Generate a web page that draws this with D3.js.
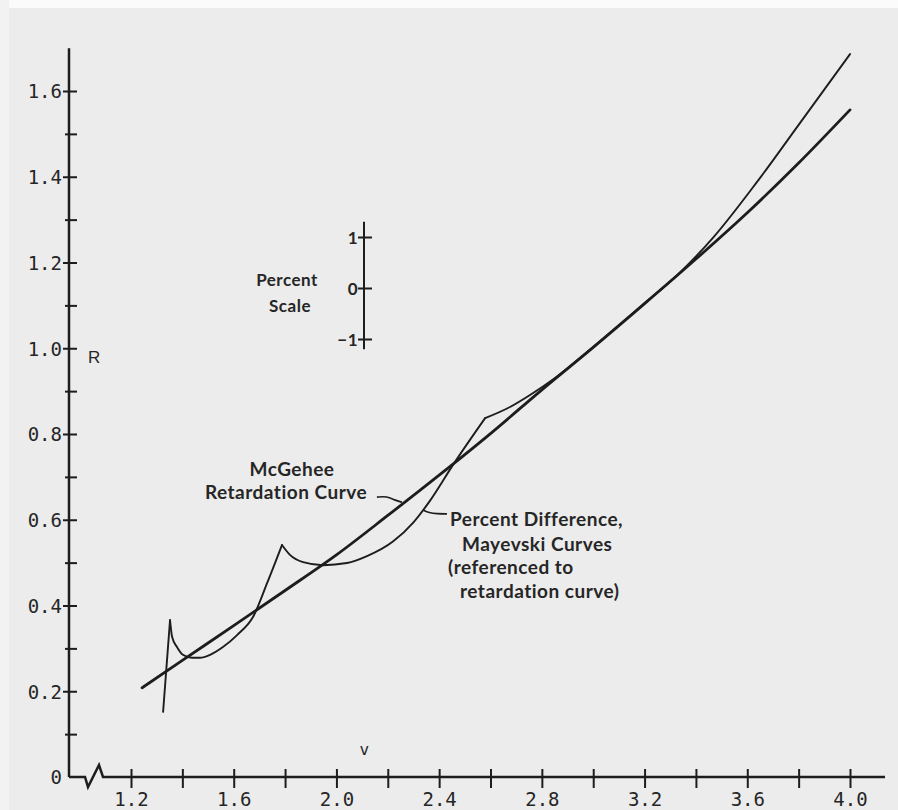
<!DOCTYPE html>
<html>
<head>
<meta charset="utf-8">
<script src="https://cdn.jsdelivr.net/npm/d3@7"></script>
<style>
  body { margin: 0; background: #ececec; }
  svg { display: block; }
  .axis text { font-family: "DejaVu Sans Mono", monospace; font-size: 19px; fill: #262626; }
  .note { font-family: Lato, "Noto Sans", sans-serif; font-size: 19px; font-weight: bold; letter-spacing: 0.5px; fill: #262626; }
</style>
</head>
<body>
<svg id="chart" width="898" height="810"></svg>
<script>
// values
var vTicks = [1.2, 1.4, 1.6, 1.8, 2.0, 2.2, 2.4, 2.6, 2.8, 3.0, 3.2, 3.4, 3.6, 3.8, 4.0];
var vLabels = [1.2, 1.6, 2.0, 2.4, 2.8, 3.2, 3.6, 4.0];
var rTicks = [0.1, 0.2, 0.3, 0.4, 0.5, 0.6, 0.7, 0.8, 0.9, 1.0, 1.1, 1.2, 1.3, 1.4, 1.5, 1.6];
var rLabels = [0, 0.2, 0.4, 0.6, 0.8, 1.0, 1.2, 1.4, 1.6];
var pctTicks = [-1, 0, 1];

// McGehee retardation curve
var mcgeheeV = [1.243, 1.4, 1.6, 1.8, 2.0, 2.2, 2.4, 2.6, 2.8, 3.0, 3.2, 3.4, 3.6, 3.8, 4.0];
var mcgeheeR = [0.208, 0.272, 0.353, 0.435, 0.518, 0.610, 0.704, 0.801, 0.903, 1.002, 1.104, 1.208, 1.316, 1.432, 1.556];

// Mayevski curves, percent difference referenced to the retardation curve
var mayevskiV = [1.325, 1.352, 1.360, 1.379, 1.402, 1.438, 1.469, 1.508, 1.558, 1.613, 1.675, 1.730, 1.788,
                 1.819, 1.870, 1.948, 2.041, 2.119, 2.220, 2.300, 2.364, 2.454, 2.579,
                 2.676, 2.754, 2.850, 3.000, 3.200, 3.330, 3.400, 3.467, 3.638, 3.800, 4.000];
var mayevskiR = [0.152, 0.366, 0.327, 0.303, 0.285, 0.278, 0.278, 0.285, 0.303, 0.331, 0.373, 0.452, 0.541,
                 0.518, 0.501, 0.494, 0.499, 0.515, 0.549, 0.594, 0.644, 0.728, 0.837,
                 0.863, 0.891, 0.930, 1.003, 1.105, 1.172, 1.214, 1.258, 1.388, 1.521, 1.686];
// where one Mayevski zone hands over to the next
var mayevskiCusps = [1.352, 1.788, 2.579];

var svg = d3.select("#chart");
var W = 898, H = 810;

var x = d3.scaleLinear().domain([1.2, 4.0]).range([131, 850]);
var y = d3.scaleLinear().domain([0, 1.6]).range([777, 91]);
var pct = d3.scaleLinear().domain([-1, 1]).range([339, 237]);
var x0 = 69; // where the R axis sits

// paper
svg.append("rect").attr("width", W).attr("height", H).attr("fill", "#ececec");
svg.append("rect").attr("width", W).attr("height", 8).attr("fill", "#fbfbfb");
svg.append("rect").attr("width", 9).attr("height", H).attr("fill", "#f2f2f2");

var ink = "#1d1d1d";

// R axis
svg.append("line")
    .attr("x1", x0).attr("x2", x0)
    .attr("y1", y(1.7)).attr("y2", y(0))
    .attr("stroke", ink).attr("stroke-width", 2.5);

var gy = svg.append("g").attr("class", "axis")
    .attr("transform", "translate(" + x0 + ",0)")
    .call(d3.axisLeft(y).tickValues(rTicks.concat([0])).tickSizeOuter(0)
        .tickFormat(function(d) {
            if (!rLabels.some(function(l) { return Math.abs(l - d) < 1e-6; })) return "";
            return d === 0 ? "0" : d3.format(".1f")(d);
        }));
gy.select(".domain").remove();
gy.selectAll(".tick line")
    .attr("x1", function(d) { return d === 0 ? 0 : 8; })
    .attr("x2", function(d) { return d === 0 ? 0 : (Math.round(d * 10) % 2 === 0 ? -6 : -4); })
    .attr("stroke", ink).attr("stroke-width", 2);
gy.selectAll(".tick text").attr("x", -7).attr("dy", "0.36em").attr("fill", "#262626");

// v axis, with the break near the origin
var yb = y(0);
var axisPath = d3.line()([[x0, yb], [85, yb], [88, yb + 10], [99, yb - 12], [103, yb], [885, yb]]);
svg.append("path").attr("d", axisPath)
    .attr("fill", "none").attr("stroke", ink).attr("stroke-width", 2.5)
    .attr("stroke-linejoin", "miter");

var gx = svg.append("g").attr("class", "axis")
    .attr("transform", "translate(0," + yb + ")")
    .call(d3.axisBottom(x).tickValues(vTicks).tickSizeOuter(0)
        .tickFormat(function(d) {
            return vLabels.some(function(l) { return Math.abs(l - d) < 1e-6; }) ? d3.format(".1f")(d) : "";
        }));
gx.select(".domain").remove();
gx.selectAll(".tick line").attr("y1", -8).attr("y2", 11).attr("stroke", ink).attr("stroke-width", 2);
gx.selectAll(".tick text").attr("y", 29).attr("dy", 0).attr("fill", "#262626");

// axis letters
svg.append("text").attr("x", x0 + 19).attr("y", y(0.965))
    .style("font-family", "'Liberation Sans', sans-serif").style("font-size", "17px").attr("fill", "#262626").text("R");
svg.append("text").attr("x", x(2.09)).attr("y", yb - 22)
    .style("font-family", "'DejaVu Sans Mono', monospace").style("font-size", "16px").attr("fill", "#262626").text("v");

// curves
var line = d3.line()
    .x(function(d) { return x(d[0]); })
    .y(function(d) { return y(d[1]); });

svg.append("path")
    .attr("d", line.curve(d3.curveMonotoneX)(d3.zip(mcgeheeV, mcgeheeR)))
    .attr("fill", "none").attr("stroke", ink).attr("stroke-width", 2.8)
    .attr("stroke-linecap", "round");

// each zone drawn smooth on its own, so the hand-over points stay sharp
var edges = [mayevskiV[0]].concat(mayevskiCusps, [mayevskiV[mayevskiV.length - 1]]);
var zones = d3.pairs(edges).map(function(e) {
    return d3.zip(mayevskiV, mayevskiR).filter(function(p) { return p[0] >= e[0] && p[0] <= e[1]; });
});
svg.selectAll("path.zone").data(zones).enter().append("path")
    .attr("class", "zone")
    .attr("d", function(z) { return z.length > 2 ? line.curve(d3.curveMonotoneX)(z) : line.curve(d3.curveLinear)(z); })
    .attr("fill", "none").attr("stroke", ink).attr("stroke-width", 1.9)
    .attr("stroke-linejoin", "round").attr("stroke-linecap", "round");

// percent scale
var px0 = 364;
svg.append("line").attr("x1", px0).attr("x2", px0)
    .attr("y1", pct(1.3)).attr("y2", pct(-1.2))
    .attr("stroke", ink).attr("stroke-width", 2);
var gp = svg.append("g").attr("transform", "translate(" + px0 + ",0)")
    .call(d3.axisLeft(pct).tickValues(pctTicks).tickSizeOuter(0).tickFormat(d3.format("d")));
gp.select(".domain").remove();
gp.selectAll(".tick line").attr("x1", 8).attr("x2", -6).attr("stroke", ink).attr("stroke-width", 2);
gp.selectAll(".tick text").attr("x", -6).attr("dy", "0.36em")
    .attr("fill", "#262626").attr("class", "note").style("font-size", "17px");

svg.append("text").attr("class", "note").attr("x", 287).attr("y", pct(0) - 2)
    .attr("text-anchor", "middle").style("font-size", "17px").text("Percent");
svg.append("text").attr("class", "note").attr("x", 290).attr("y", pct(0) + 24)
    .attr("text-anchor", "middle").style("font-size", "17px").text("Scale");

// labels and leaders
svg.append("text").attr("class", "note").attr("x", 292).attr("y", 476)
    .attr("text-anchor", "middle").text("McGehee");
svg.append("text").attr("class", "note").attr("x", 286).attr("y", 499)
    .attr("text-anchor", "middle").text("Retardation Curve");

var leader = d3.line().curve(d3.curveBasis);
var mcA = [x(2.255), y(0.641)];
svg.append("path")
    .attr("d", leader([[mcA[0] - 25, mcA[1] - 5], [mcA[0] - 15, mcA[1] - 6], [mcA[0] - 7, mcA[1] - 2], mcA]))
    .attr("fill", "none").attr("stroke", ink).attr("stroke-width", 1.7);

var myA = [x(2.337), y(0.623)];
svg.append("path")
    .attr("d", leader([myA, [myA[0] + 6, myA[1] + 3], [myA[0] + 14, myA[1] + 4], [myA[0] + 24, myA[1] + 4]]))
    .attr("fill", "none").attr("stroke", ink).attr("stroke-width", 1.7);

var notes = [
    ["Percent Difference,", 450, 526],
    ["Mayevski Curves", 462, 551],
    ["(referenced to", 448, 574],
    ["retardation curve)", 460, 598]
];
svg.selectAll("text.pd").data(notes).enter().append("text")
    .attr("class", "note pd")
    .attr("x", function(d) { return d[1]; })
    .attr("y", function(d) { return d[2]; })
    .text(function(d) { return d[0]; });
</script>
</body>
</html>
